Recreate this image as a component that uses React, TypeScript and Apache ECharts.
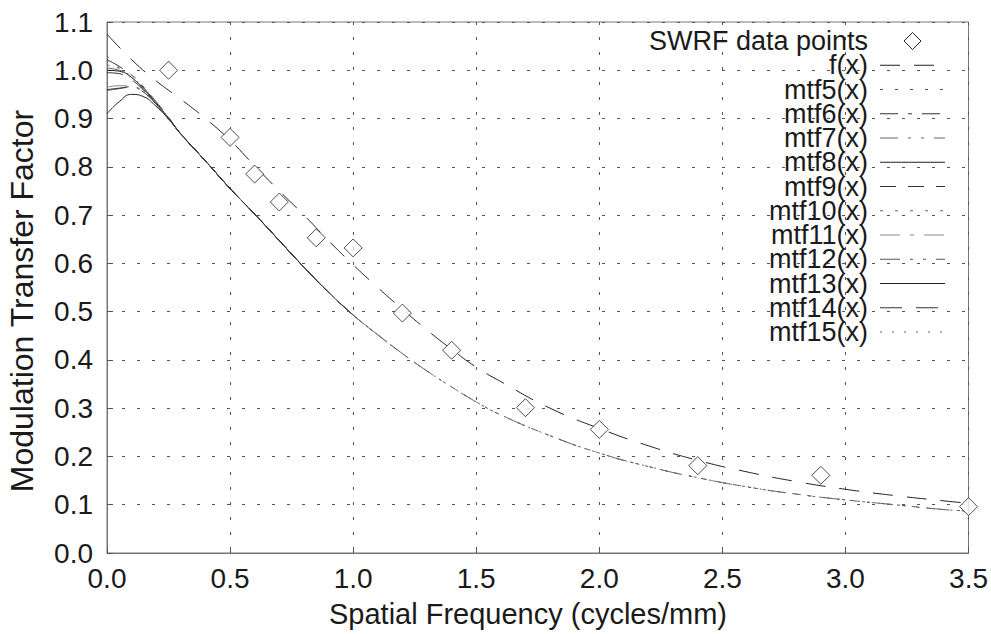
import React, { useEffect, useRef } from "react";
import * as echarts from "echarts";

// SWRF measured points
const swrfX = [0.25, 0.5, 0.6, 0.7, 0.85, 1.0, 1.2, 1.4, 1.7, 2.0, 2.4, 2.9, 3.5];
const swrfY = [1.0, 0.861, 0.785, 0.727, 0.653, 0.632, 0.497, 0.42, 0.301, 0.256, 0.181, 0.161, 0.096];

// fitted f(x)
const fX = [0, 0.1, 0.2, 0.3, 0.4, 0.5, 0.6, 0.7, 0.8, 0.9, 1.0, 1.1, 1.2, 1.3, 1.4, 1.5, 1.6, 1.8, 2.0, 2.2, 2.4, 2.6, 2.8, 3.0, 3.2, 3.4, 3.5];
const fY = [1.075, 1.022, 0.978, 0.94, 0.9, 0.855, 0.802, 0.75, 0.7, 0.647, 0.597, 0.55, 0.505, 0.462, 0.422, 0.385, 0.355, 0.3, 0.258, 0.222, 0.192, 0.168, 0.148, 0.132, 0.119, 0.108, 0.103];

// mtf curves: shared x grid, individual heads (x = 0 … 0.25), common tail (x = 0.3 … 3.5)
const mtfX = [0, 0.05, 0.1, 0.15, 0.2, 0.25, 0.3, 0.4, 0.5, 0.6, 0.7, 0.8, 0.9, 1.0, 1.1, 1.2, 1.3, 1.4, 1.5, 1.6, 1.8, 2.0, 2.2, 2.4, 2.6, 2.8, 3.0, 3.2, 3.4, 3.5];
const mtfTail = [0.868, 0.812, 0.755, 0.702, 0.647, 0.592, 0.54, 0.493, 0.452, 0.413, 0.377, 0.344, 0.313, 0.286, 0.243, 0.207, 0.179, 0.156, 0.137, 0.122, 0.11, 0.1, 0.09, 0.087];
const mtfNames = ["mtf5(x)", "mtf6(x)", "mtf7(x)", "mtf8(x)", "mtf9(x)", "mtf10(x)", "mtf11(x)", "mtf12(x)", "mtf13(x)", "mtf14(x)", "mtf15(x)"];
const mtfHeads = [
  [1.03, 1.005, 0.985, 0.96, 0.932, 0.902],
  [1.022, 1.008, 0.99, 0.963, 0.933, 0.902],
  [1.005, 1.0, 0.99, 0.965, 0.935, 0.903],
  [1.0, 0.998, 0.985, 0.96, 0.932, 0.901],
  [0.995, 0.993, 0.98, 0.958, 0.93, 0.9],
  [1.012, 1.0, 0.985, 0.96, 0.932, 0.901],
  [0.965, 0.968, 0.967, 0.955, 0.93, 0.9],
  [0.958, 0.962, 0.965, 0.953, 0.929, 0.9],
  [0.91, 0.935, 0.95, 0.945, 0.925, 0.899],
  [0.96, 0.963, 0.966, 0.954, 0.93, 0.9],
  [1.02, 1.003, 0.987, 0.961, 0.932, 0.901],
];
// last x drawn for each mtf curve
const mtfXMax = [3.5, 1.0, 3.5, 0.8, 1.0, 3.5, 1.1, 1.2, 0.9, 1.0, 3.5];

const xTicks = ["0.0", "0.5", "1.0", "1.5", "2.0", "2.5", "3.0", "3.5"];
const xTitle = "Spatial Frequency (cycles/mm)";
const yTitle = "Modulation Transfer Factor";
const swrfName = "SWRF data points";
const fName = "f(x)";

const fDash = [20, 14];
const mtfDash: (number[] | null)[] = [
  [3, 12],
  [18, 10, 4, 10],
  [18, 10, 3, 10, 3, 10],
  null,
  [16, 12],
  [3, 12],
  [20, 10, 4, 10],
  [20, 10, 3, 10, 3, 10],
  null,
  [22, 14],
  [2, 10],
];
const mtfColor = ["#555", "#333", "#666", "#222", "#333", "#666", "#888", "#555", "#222", "#333", "#666"];

const FONT = "'Liberation Sans', Arial, sans-serif";
const INK = "#1a1a1a";

export default function App() {
  const ref = useRef<HTMLDivElement>(null);
  useEffect(() => {
    if (!ref.current) return;
    const chart = echarts.init(ref.current, null, { renderer: "svg" });
    const series: any[] = [];
    series.push({
      name: swrfName,
      type: "scatter",
      symbol: "diamond",
      symbolSize: 18,
      itemStyle: { color: "#fff", borderColor: "#222", borderWidth: 1 },
      data: swrfX.map((x, i) => [x, swrfY[i]]),
      z: 5,
    });
    series.push({
      name: fName,
      type: "line",
      symbol: "none",
      smooth: true,
      lineStyle: { color: "#222", width: 1, type: fDash },
      data: fX.map((x, i) => [x, fY[i]]),
    });
    mtfNames.forEach((name, k) => {
      const ys = mtfHeads[k].concat(mtfTail);
      const data = mtfX
        .map((x, i) => [x, ys[i]])
        .filter((p) => p[0] <= mtfXMax[k] + 1e-9);
      series.push({
        name,
        type: "line",
        symbol: "none",
        smooth: true,
        lineStyle: { color: mtfColor[k], width: 1, type: mtfDash[k] ?? "solid" },
        data,
      });
    });

    // manual key (text right-aligned, sample on the right)
    const rowTop = 41;
    const rowStep = 24.25;
    const textRight = 868;
    const sx1 = 880;
    const sx2 = 945;
    const graphics: any[] = [];
    const keyNames = [swrfName, fName].concat(mtfNames);
    keyNames.forEach((name, i) => {
      const y = rowTop + i * rowStep;
      graphics.push({
        type: "text",
        x: textRight,
        y,
        z: 20,
        style: {
          text: name,
          fontSize: 27,
          fontFamily: FONT,
          fill: INK,
          align: "right",
          verticalAlign: "middle",
        },
      });
      if (i === 0) {
        const cx = (sx1 + sx2) / 2;
        const h = 8.5;
        graphics.push({
          type: "polygon",
          z: 20,
          shape: { points: [[cx, y - h], [cx + h, y], [cx, y + h], [cx - h, y]] },
          style: { fill: "#fff", stroke: "#222", lineWidth: 1 },
        });
      } else {
        const dash = i === 1 ? fDash : mtfDash[i - 2];
        const color = i === 1 ? "#222" : mtfColor[i - 2];
        graphics.push({
          type: "line",
          z: 20,
          shape: { x1: sx1, y1: y, x2: sx2, y2: y },
          style: { stroke: color, lineWidth: 1, lineDash: dash || undefined },
        });
      }
    });
    graphics.push({
      type: "text",
      x: 528,
      y: 614,
      style: { text: xTitle, fontSize: 29, fontFamily: FONT, fill: INK, align: "center", verticalAlign: "middle" },
    });
    graphics.push({
      type: "text",
      x: 22,
      y: 301,
      rotation: Math.PI / 2,
      style: { text: yTitle, fontSize: 32, fontFamily: FONT, fill: INK, align: "center", verticalAlign: "middle" },
    });

    chart.setOption({
      animation: false,
      backgroundColor: "#fff",
      textStyle: { fontFamily: FONT },
      grid: {
        left: 107,
        right: 20,
        top: 22,
        bottom: 81,
        show: true,
        borderColor: "#777",
        borderWidth: 1,
      },
      xAxis: {
        type: "value",
        min: 0,
        max: 3.5,
        interval: 0.5,
        axisLine: { show: true, lineStyle: { color: "#777", width: 1 } },
        axisTick: { show: true, inside: true, length: 6, lineStyle: { color: "#555" } },
        axisLabel: {
          fontSize: 28,
          color: INK,
          margin: 11,
          fontFamily: FONT,
          formatter: (v: number) => xTicks[Math.round(v / 0.5)] ?? v.toFixed(1),
        },
        splitLine: { show: true, lineStyle: { color: "#555", width: 1, type: [3, 12] } },
      },
      yAxis: {
        type: "value",
        min: 0,
        max: 1.1,
        interval: 0.1,
        axisLine: { show: true, lineStyle: { color: "#777", width: 1 } },
        axisTick: { show: true, inside: true, length: 6, lineStyle: { color: "#555" } },
        axisLabel: {
          fontSize: 28,
          color: INK,
          margin: 14,
          fontFamily: FONT,
          formatter: (v: number) => v.toFixed(1),
        },
        splitLine: { show: true, lineStyle: { color: "#555", width: 1, type: [3, 12] } },
      },
      graphic: { elements: graphics },
      series,
    });
    return () => chart.dispose();
  }, []);
  return (
    <div
      ref={ref}
      style={{ position: "fixed", left: 0, top: 0, width: 991, height: 634, background: "#fff" }}
    />
  );
}
